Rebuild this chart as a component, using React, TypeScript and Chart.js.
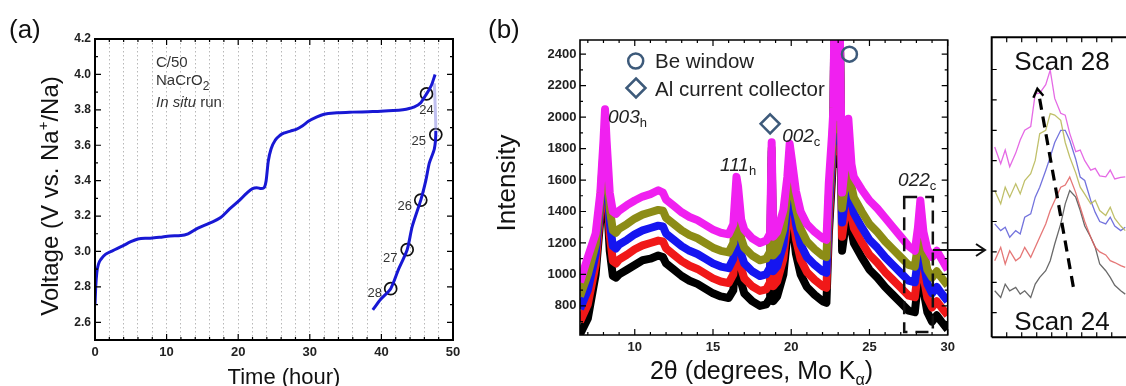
import React, { useEffect, useRef } from "react";
import { Chart, registerables } from "chart.js";
Chart.register(...registerables);

const SANS = "'Liberation Sans', Arial, Helvetica, sans-serif";

// ---------------- Panel (a): voltage profile ----------------
const chargeTime = [0, 0.1, 0.25, 0.5, 0.9, 1.5, 2.5, 3.8, 5.0, 6.0, 7.5, 9.0, 10.5, 12.0, 13.0, 14.3, 16.0, 17.5, 18.8, 20.2, 21.2, 22.0, 22.6, 23.2, 23.6, 23.9, 24.2, 24.6, 25.2, 25.8, 26.5, 27.3, 28.1, 29.0, 29.8, 31.0, 32.0, 33.8, 36.0, 38.8, 41.0, 43.0, 44.5, 45.5, 46.3, 47.0, 47.5];
const chargeVoltage = [2.70, 2.80, 2.88, 2.93, 2.96, 2.985, 3.005, 3.03, 3.055, 3.07, 3.075, 3.08, 3.088, 3.09, 3.10, 3.13, 3.16, 3.19, 3.24, 3.29, 3.33, 3.355, 3.36, 3.355, 3.36, 3.40, 3.51, 3.58, 3.63, 3.655, 3.67, 3.68, 3.69, 3.71, 3.735, 3.76, 3.775, 3.783, 3.787, 3.79, 3.795, 3.80, 3.815, 3.84, 3.89, 3.94, 4.0];
const dischargeTime = [47.4, 47.6, 47.4, 46.7, 46.2, 45.5, 44.3, 43.6, 42.4, 41.3, 39.9, 38.8];
const dischargeVoltage = [3.95, 3.68, 3.58, 3.50, 3.40, 3.29, 3.14, 3.01, 2.90, 2.79, 2.73, 2.67];
const scanTime = [46.3, 47.6, 45.5, 43.6, 41.3];
const scanVoltage = [3.89, 3.66, 3.29, 3.01, 2.79];
const scanNumbers = ["24", "25", "26", "27", "28"];
const timeLabels = [0, 10, 20, 30, 40, 50];
const timeGridLines = [0, 2, 4, 6, 8, 10, 12, 14, 16, 18, 20, 22, 24, 26, 28, 30, 32, 34, 36, 38, 40, 42, 44, 46, 48, 50];
const voltageTicks = [2.6, 2.8, 3.0, 3.2, 3.4, 3.6, 3.8, 4.0, 4.2];
const voltageMinor = [2.5, 2.7, 2.9, 3.1, 3.3, 3.5, 3.7, 3.9, 4.1];

// ---------------- Panel (b): XRD patterns ----------------
const twoTheta = [6.5, 7.0, 7.5, 7.8, 8.0, 8.1, 8.2, 8.4, 8.6, 8.8, 9.0, 9.5, 10.0, 10.5, 11.0, 11.5, 11.8, 12.0, 12.5, 13.0, 13.5, 14.0, 14.5, 15.0, 15.5, 16.0, 16.3, 16.5, 16.6, 16.8, 17.0, 17.5, 18.0, 18.4, 18.65, 18.75, 18.85, 19.1, 19.5, 19.75, 19.9, 20.05, 20.3, 20.6, 21.0, 21.5, 22.0, 22.25, 22.4, 22.6, 22.7, 22.75, 22.8, 23.0, 23.1, 23.25, 23.45, 23.65, 23.85, 24.0, 24.5, 25.0, 25.5, 26.0, 26.5, 27.0, 27.5, 27.9, 28.1, 28.25, 28.45, 28.7, 29.0, 29.3, 29.6, 30.0];
const scan24 = [620, 720, 1000, 1350, 1580, 1650, 1500, 1150, 990, 980, 1000, 1030, 1060, 1090, 1100, 1120, 1110, 1070, 1030, 990, 960, 940, 910, 880, 860, 850, 900, 1220, 1180, 950, 880, 830, 800, 810, 850, 1700, 830, 860, 1000, 1250, 1560, 1350, 1130, 1000, 920, 870, 830, 820, 1250, 1600, 1800, 2600, 1700, 1750, 2600, 1150, 1300, 1550, 1280, 1200, 1110, 1030, 980, 920, 870, 820, 770, 760, 950, 1150, 900, 760, 700, 740, 700, 650];
const scan25 = [700, 810, 1060, 1400, 1650, 1760, 1600, 1250, 1085, 1070, 1095, 1125, 1160, 1185, 1200, 1215, 1210, 1165, 1125, 1085, 1055, 1035, 1005, 975, 955, 945, 1000, 1310, 1260, 1040, 975, 925, 895, 905, 950, 1740, 925, 955, 1100, 1330, 1630, 1430, 1225, 1095, 1015, 965, 925, 915, 1330, 1680, 1870, 2600, 1780, 1820, 2600, 1240, 1390, 1650, 1370, 1295, 1205, 1125, 1075, 1015, 965, 915, 865, 855, 1020, 1250, 990, 850, 790, 830, 790, 740];
const scan26 = [780, 900, 1130, 1450, 1720, 1840, 1680, 1330, 1180, 1165, 1190, 1220, 1255, 1280, 1295, 1310, 1305, 1260, 1220, 1180, 1150, 1130, 1100, 1070, 1050, 1040, 1100, 1410, 1350, 1130, 1070, 1020, 990, 1000, 1045, 1780, 1020, 1050, 1190, 1420, 1700, 1520, 1320, 1190, 1110, 1060, 1020, 1010, 1410, 1740, 1930, 2600, 1850, 1890, 2600, 1330, 1480, 1750, 1460, 1390, 1300, 1220, 1170, 1110, 1060, 1010, 960, 950, 1100, 1330, 1080, 940, 880, 920, 880, 830];
const scan27 = [860, 1000, 1190, 1480, 1780, 1870, 1720, 1420, 1280, 1265, 1290, 1320, 1355, 1380, 1395, 1410, 1405, 1360, 1320, 1280, 1250, 1230, 1200, 1170, 1150, 1140, 1200, 1500, 1440, 1230, 1170, 1120, 1090, 1100, 1145, 1800, 1120, 1150, 1290, 1510, 1770, 1610, 1420, 1290, 1210, 1160, 1120, 1110, 1490, 1800, 1990, 2600, 1920, 1950, 2600, 1420, 1580, 1850, 1560, 1490, 1400, 1320, 1270, 1210, 1160, 1110, 1060, 1050, 1190, 1380, 1170, 1030, 980, 1020, 980, 930];
const scan28 = [950, 1110, 1260, 1520, 1850, 2050, 1850, 1520, 1400, 1385, 1405, 1440, 1470, 1495, 1510, 1535, 1520, 1475, 1435, 1395, 1365, 1345, 1315, 1285, 1265, 1255, 1320, 1620, 1560, 1350, 1285, 1230, 1200, 1215, 1260, 1840, 1240, 1270, 1410, 1620, 1830, 1720, 1530, 1400, 1320, 1270, 1230, 1220, 1580, 1880, 2060, 2600, 2000, 2020, 2600, 1520, 1700, 1990, 1700, 1620, 1540, 1470, 1420, 1360, 1300, 1240, 1180, 1150, 1300, 1470, 1270, 1160, 1110, 1150, 1100, 1030];
const thetaLabels = [10, 15, 20, 25, 30];
const thetaMinor = [7, 8, 9, 11, 12, 13, 14, 16, 17, 18, 19, 21, 22, 23, 24, 26, 27, 28, 29];
const intensityTicks = [800, 1000, 1200, 1400, 1600, 1800, 2000, 2200, 2400];
const intensityMinor = [700, 900, 1100, 1300, 1500, 1700, 1900, 2100, 2300];
const peakNames = ["003", "111", "002", "022"];
const peakSubs = ["h", "h", "c", "c"];
const peakLabelTheta = [8.29, 15.45, 19.42, 26.83];
const peakLabelIntensity = [1963, 1658, 1842, 1562];
const beMarker = [23.72, 2400];
const alMarker = [18.65, 1957];
const zoomBoxTheta = [27.22, 29.05];
const zoomBoxIntensity = [634, 1492];
const arrowIntensity = 1155;

// ---------------- Panel (c): inset of the 022c peak ----------------
const insetTheta = [27.72, 27.76, 27.79, 27.82, 27.86, 27.89, 27.92, 27.96, 27.99, 28.02, 28.06, 28.09, 28.12, 28.16, 28.19, 28.22, 28.26, 28.29, 28.32, 28.36, 28.39, 28.42, 28.46, 28.49, 28.52, 28.56, 28.59];
const inset24 = [772, 750, 794, 772, 783, 761, 772, 750, 794, 816, 838, 871, 926, 992, 1058, 1102, 1080, 1036, 985, 948, 915, 860, 838, 816, 790, 772, 761];
const inset25 = [871, 915, 860, 904, 871, 882, 915, 882, 915, 948, 992, 1036, 1069, 1113, 1120, 1146, 1095, 1047, 1000, 948, 915, 900, 890, 871, 865, 855, 849];
const inset26 = [992, 970, 981, 948, 970, 959, 1014, 1025, 1080, 1113, 1168, 1212, 1260, 1300, 1300, 1267, 1205, 1146, 1135, 1069, 1030, 1000, 992, 1014, 985, 970, 981];
const inset27 = [1102, 1058, 1113, 1080, 1124, 1091, 1135, 1157, 1201, 1289, 1300, 1355, 1350, 1333, 1260, 1212, 1160, 1113, 1090, 1058, 1070, 1036, 1020, 1047, 1010, 985, 970];
const inset28 = [1245, 1190, 1235, 1180, 1225, 1268, 1300, 1312, 1420, 1422, 1450, 1498, 1405, 1356, 1350, 1290, 1230, 1235, 1200, 1169, 1175, 1150, 1147, 1169, 1140, 1145, 1147];
const insetThetaTicks = [27.8, 27.9, 28.0, 28.1, 28.2, 28.3, 28.4, 28.5];
const insetIntensityTicks = [700, 800, 900, 1000, 1100, 1200, 1300, 1400, 1500];
const shiftArrowTheta = [28.244, 28.011];
const shiftArrowIntensity = [785, 1427];

// ---------------- helpers ----------------
type Part = { t: string; size: number; dy?: number; italic?: boolean; bold?: boolean };
const fontOf = (p: Part) => `${p.italic ? "italic " : ""}${p.bold ? "bold " : ""}${p.size}px ${SANS}`;
function drawRich(ctx: CanvasRenderingContext2D, parts: Part[], x: number, y: number, align: "left" | "center") {
  let total = 0;
  const ws = parts.map((p) => {
    ctx.font = fontOf(p);
    const w = ctx.measureText(p.t).width;
    total += w;
    return w;
  });
  let cx = align === "center" ? x - total / 2 : x;
  ctx.textAlign = "left";
  ctx.textBaseline = "alphabetic";
  parts.forEach((p, i) => {
    ctx.font = fontOf(p);
    ctx.fillText(p.t, cx, y + (p.dy || 0));
    cx += ws[i];
  });
}

type BoxOpts = {
  lw: number; tw: number; major: number; minor: number;
  xMajor: number[]; xMinor: number[]; yMajor: number[]; yMinor: number[];
  top: boolean; right: boolean; rightBorder: boolean;
};
function drawBox(chart: any, o: BoxOpts) {
  const { ctx, chartArea: a } = chart;
  const xs = chart.scales.x, ys = chart.scales.y;
  ctx.save();
  ctx.strokeStyle = "#000";
  ctx.lineWidth = o.tw;
  ctx.beginPath();
  const tx = (vals: number[], len: number) => vals.forEach((v) => {
    const p = xs.getPixelForValue(v);
    ctx.moveTo(p, a.bottom); ctx.lineTo(p, a.bottom - len);
    if (o.top) { ctx.moveTo(p, a.top); ctx.lineTo(p, a.top + len); }
  });
  const ty = (vals: number[], len: number) => vals.forEach((v) => {
    const p = ys.getPixelForValue(v);
    ctx.moveTo(a.left, p); ctx.lineTo(a.left + len, p);
    if (o.right) { ctx.moveTo(a.right, p); ctx.lineTo(a.right - len, p); }
  });
  tx(o.xMajor, o.major); tx(o.xMinor, o.minor); ty(o.yMajor, o.major); ty(o.yMinor, o.minor);
  ctx.stroke();
  ctx.lineWidth = o.lw;
  ctx.lineJoin = "miter";
  ctx.beginPath();
  ctx.moveTo(a.left, a.bottom); ctx.lineTo(a.left, a.top); ctx.lineTo(a.right, a.top);
  if (o.rightBorder) ctx.lineTo(a.right, a.bottom); else ctx.moveTo(a.right, a.bottom);
  ctx.lineTo(a.left, a.bottom);
  if (o.rightBorder) ctx.closePath();
  ctx.stroke();
  ctx.restore();
}

const pts = (xs: number[], ys: number[]) => xs.map((x, i) => ({ x, y: ys[i] }));

// ---------------- plugins ----------------
const panelAPlugin = {
  id: "panelA",
  afterDraw(chart: any) {
    const { ctx, chartArea: a } = chart;
    drawBox(chart, {
      lw: 2, tw: 1.2, major: 6, minor: 3,
      xMajor: timeLabels, xMinor: timeGridLines.filter((v) => !timeLabels.includes(v)),
      yMajor: voltageTicks, yMinor: voltageMinor, top: true, right: true, rightBorder: true,
    });
    ctx.save();
    ctx.fillStyle = "#333";
    drawRich(ctx, [{ t: "C/50", size: 15 }], a.left + 61, a.top + 27.5, "left");
    drawRich(ctx, [{ t: "NaCrO", size: 15 }, { t: "2", size: 12, dy: 5 }], a.left + 61, a.top + 46, "left");
    drawRich(ctx, [{ t: "In situ", size: 15, italic: true }, { t: " run", size: 15 }], a.left + 61, a.top + 67.5, "left");
    // scan number labels beside the circles
    const meta = chart.getDatasetMeta(2);
    const offs = [[0, 20], [-17, 10], [-16, 10], [-17, 12], [-16, 8]];
    ctx.font = `13px ${SANS}`;
    ctx.textAlign = "center";
    ctx.textBaseline = "alphabetic";
    meta.data.forEach((el: any, i: number) => {
      ctx.fillText(scanNumbers[i], el.x + offs[i][0], el.y + offs[i][1]);
    });
    // titles
    ctx.fillStyle = "#111";
    drawRich(ctx, [{ t: "(a)", size: 26 }], 9, 38, "left");
    drawRich(ctx, [{ t: "Time (hour)", size: 22 }], 284, 384, "center");
    ctx.translate(58, 196);
    ctx.rotate(-Math.PI / 2);
    drawRich(ctx, [{ t: "Voltage (V vs. Na", size: 24 }, { t: "+", size: 15, dy: -10 }, { t: "/Na)", size: 24 }], 0, 0, "center");
    ctx.restore();
  },
};

const SLATE = "#3d5a7a";
const panelBPlugin = {
  id: "panelB",
  afterDraw(chart: any) {
    const { ctx, chartArea: a } = chart;
    const xs = chart.scales.x, ys = chart.scales.y;
    drawBox(chart, {
      lw: 1.6, tw: 1.2, major: 6, minor: 3,
      xMajor: thetaLabels, xMinor: thetaMinor, yMajor: intensityTicks, yMinor: intensityMinor,
      top: true, right: true, rightBorder: true,
    });
    ctx.save();
    // zoom box
    const bx0 = xs.getPixelForValue(zoomBoxTheta[0]);
    const bx1 = xs.getPixelForValue(zoomBoxTheta[1]);
    const by0 = ys.getPixelForValue(zoomBoxIntensity[1]);
    const by1 = ys.getPixelForValue(zoomBoxIntensity[0]);
    ctx.strokeStyle = "#111";
    ctx.lineWidth = 2.5;
    ctx.setLineDash([13, 8]);
    ctx.strokeRect(bx0, by0, bx1 - bx0, by1 - by0);
    ctx.setLineDash([]);
    // arrow to inset
    const ay = ys.getPixelForValue(arrowIntensity);
    const tip = chart.width - 5;
    ctx.lineWidth = 2;
    ctx.beginPath();
    ctx.moveTo(bx1, ay); ctx.lineTo(tip, ay);
    ctx.moveTo(tip - 9, ay - 6); ctx.lineTo(tip, ay); ctx.lineTo(tip - 9, ay + 6);
    ctx.stroke();
    // markers
    ctx.strokeStyle = SLATE;
    ctx.lineWidth = 2.5;
    const circle = (x: number, y: number, r: number) => { ctx.beginPath(); ctx.arc(x, y, r, 0, Math.PI * 2); ctx.stroke(); };
    const diamond = (x: number, y: number, r: number) => {
      ctx.beginPath(); ctx.moveTo(x, y - r); ctx.lineTo(x + r, y); ctx.lineTo(x, y + r); ctx.lineTo(x - r, y); ctx.closePath(); ctx.stroke();
    };
    circle(xs.getPixelForValue(beMarker[0]), ys.getPixelForValue(beMarker[1]), 7.5);
    diamond(xs.getPixelForValue(alMarker[0]), ys.getPixelForValue(alMarker[1]), 9.5);
    // legend
    circle(a.left + 55.7, a.top + 21, 7.5);
    diamond(a.left + 56, a.top + 48, 9.5);
    ctx.fillStyle = "#222";
    drawRich(ctx, [{ t: "Be window", size: 20.5 }], a.left + 75, a.top + 28, "left");
    drawRich(ctx, [{ t: "Al current collector", size: 20.5 }], a.left + 75, a.top + 56, "left");
    // peak labels
    peakNames.forEach((n, i) => {
      drawRich(ctx, [{ t: n, size: 19, italic: true }, { t: peakSubs[i], size: 13, dy: 4 }],
        xs.getPixelForValue(peakLabelTheta[i]), ys.getPixelForValue(peakLabelIntensity[i]), "left");
    });
    // titles
    ctx.fillStyle = "#111";
    drawRich(ctx, [{ t: "(b)", size: 26 }], 8, 38, "left");
    drawRich(ctx, [{ t: "2θ (degrees, Mo K", size: 25 }, { t: "α", size: 16, dy: 6 }, { t: ")", size: 25 }], 281.5, 379, "center");
    ctx.translate(35, 183);
    ctx.rotate(-Math.PI / 2);
    drawRich(ctx, [{ t: "Intensity", size: 26 }], 0, 0, "center");
    ctx.restore();
  },
};

const panelCPlugin = {
  id: "panelC",
  afterDraw(chart: any) {
    const { ctx } = chart;
    const xs = chart.scales.x, ys = chart.scales.y;
    drawBox(chart, {
      lw: 2, tw: 1.2, major: 5, minor: 0,
      xMajor: insetThetaTicks, xMinor: [], yMajor: insetIntensityTicks, yMinor: [],
      top: true, right: false, rightBorder: false,
    });
    ctx.save();
    const x0 = xs.getPixelForValue(shiftArrowTheta[0]), y0 = ys.getPixelForValue(shiftArrowIntensity[0]);
    const x1 = xs.getPixelForValue(shiftArrowTheta[1]), y1 = ys.getPixelForValue(shiftArrowIntensity[1]);
    ctx.strokeStyle = "#000";
    ctx.lineWidth = 3.2;
    ctx.setLineDash([11, 7]);
    ctx.beginPath(); ctx.moveTo(x0, y0); ctx.lineTo(x1, y1); ctx.stroke();
    ctx.setLineDash([]);
    ctx.lineWidth = 2.4;
    ctx.beginPath();
    ctx.moveTo(x1 - 5, y1 + 6); ctx.lineTo(x1 - 1, y1 - 3); ctx.lineTo(x1 + 5, y1 + 4);
    ctx.stroke();
    ctx.fillStyle = "#111";
    drawRich(ctx, [{ t: "Scan 28", size: 26 }], 72, 70, "center");
    drawRich(ctx, [{ t: "Scan 24", size: 26 }], 72, 330, "center");
    ctx.restore();
  },
};

// ---------------- configs ----------------
const BLUE = "#1818d4";
const tickFont = (size: number) => ({ size, weight: "bold" as const, family: SANS });

function configA(): any {
  return {
    type: "line",
    data: {
      datasets: [
        { data: pts(chargeTime, chargeVoltage), borderColor: BLUE, borderWidth: 3, pointRadius: 0, cubicInterpolationMode: "monotone", fill: false },
        {
          data: pts(dischargeTime, dischargeVoltage), borderColor: BLUE, borderWidth: 3, pointRadius: 0, tension: 0.25, fill: false,
          segment: { borderColor: (c: any) => (c.p0DataIndex === 0 ? "rgba(130,130,225,0.5)" : BLUE) },
        },
        {
          type: "scatter", data: pts(scanTime, scanVoltage), pointStyle: "circle", pointRadius: 6,
          pointBorderColor: "#111", pointBorderWidth: 1.7, pointBackgroundColor: "rgba(0,0,0,0)", showLine: false,
        },
      ],
    },
    options: {
      animation: false, responsive: false, devicePixelRatio: 1,
      layout: { padding: { left: 0, top: 39, right: 27, bottom: 0 } },
      plugins: { legend: { display: false }, tooltip: { enabled: false } },
      scales: {
        x: {
          type: "linear", min: 0, max: 50,
          afterBuildTicks: (s: any) => { s.ticks = timeGridLines.map((v) => ({ value: v })); },
          afterFit: (s: any) => { s.height = 46; },
          ticks: { callback: (v: any) => (timeLabels.includes(Number(v)) ? String(v) : ""), font: tickFont(13), color: "#222", padding: 5, maxRotation: 0, autoSkip: false },
          grid: { color: "#b8b8b8", lineWidth: 1, drawTicks: false },
          border: { display: false, dash: [1.5, 2.5] },
        },
        y: {
          type: "linear", min: 2.5, max: 4.2,
          afterBuildTicks: (s: any) => { s.ticks = voltageTicks.map((v) => ({ value: v })); },
          afterFit: (s: any) => { s.width = 95; },
          ticks: { callback: (v: any) => Number(v).toFixed(1), font: tickFont(12), color: "#222", padding: 4, autoSkip: false },
          grid: { display: false, drawTicks: false },
          border: { display: false },
        },
      },
    },
    plugins: [panelAPlugin],
  };
}

const xrdSeries = [
  { d: scan28, c: "#f020f0" },
  { d: scan27, c: "#8c8c16" },
  { d: scan26, c: "#1515f0" },
  { d: scan25, c: "#f01818" },
  { d: scan24, c: "#000000" },
];

function configB(): any {
  return {
    type: "line",
    data: {
      datasets: xrdSeries.map((s) => ({ data: pts(twoTheta, s.d), borderColor: s.c, borderWidth: 8, pointRadius: 0, tension: 0, fill: false, borderJoinStyle: "round" })),
    },
    options: {
      animation: false, responsive: false, devicePixelRatio: 1,
      layout: { padding: { left: 0, top: 40, right: 42.3, bottom: 0 } },
      plugins: { legend: { display: false }, tooltip: { enabled: false } },
      scales: {
        x: {
          type: "linear", min: 6.5, max: 30,
          afterBuildTicks: (s: any) => { s.ticks = thetaLabels.map((v) => ({ value: v })); },
          afterFit: (s: any) => { s.height = 51; },
          ticks: { callback: (v: any) => String(v), font: tickFont(13), color: "#222", padding: 5, maxRotation: 0, autoSkip: false },
          grid: { display: false, drawTicks: false },
          border: { display: false },
        },
        y: {
          type: "linear", min: 615, max: 2490,
          afterBuildTicks: (s: any) => { s.ticks = intensityTicks.map((v) => ({ value: v })); },
          afterFit: (s: any) => { s.width = 100; },
          ticks: { callback: (v: any) => String(v), font: tickFont(13), color: "#222", padding: 3.5, autoSkip: false },
          grid: { display: false, drawTicks: false },
          border: { display: false },
        },
      },
    },
    plugins: [panelBPlugin],
  };
}

const insetSeries = [
  { d: inset28, c: "rgba(225,80,225,0.85)" },
  { d: inset27, c: "rgba(185,185,90,0.9)" },
  { d: inset26, c: "rgba(90,90,215,0.85)" },
  { d: inset25, c: "rgba(225,95,95,0.85)" },
  { d: inset24, c: "rgba(90,90,90,0.9)" },
];

function configC(): any {
  return {
    type: "line",
    data: {
      datasets: insetSeries.map((s) => ({ data: pts(insetTheta, s.d), borderColor: s.c, borderWidth: 1.3, pointRadius: 0, tension: 0, fill: false })),
    },
    options: {
      animation: false, responsive: false, devicePixelRatio: 1,
      layout: { padding: { left: 1.7, top: 37.3, right: 0, bottom: 48.7 } },
      plugins: { legend: { display: false }, tooltip: { enabled: false } },
      scales: {
        x: { type: "linear", min: 27.7, max: 28.595, display: false },
        y: { type: "linear", min: 619, max: 1606, display: false },
      },
    },
    plugins: [panelCPlugin],
  };
}

function ChartCanvas({ make, left, width }: { make: () => any; left: number; width: number }) {
  const ref = useRef<HTMLCanvasElement>(null);
  useEffect(() => {
    const chart = new Chart(ref.current as HTMLCanvasElement, make());
    return () => chart.destroy();
  }, []);
  return (
    <canvas
      ref={ref}
      width={width}
      height={386}
      style={{ position: "absolute", left, top: 0, width, height: 386, display: "block" }}
    />
  );
}

export default function App() {
  return (
    <div style={{ position: "absolute", left: 0, top: 0, width: 1126, height: 386, background: "#fff", overflow: "hidden" }}>
      <ChartCanvas make={configA} left={0} width={480} />
      <ChartCanvas make={configB} left={480} width={510} />
      <ChartCanvas make={configC} left={990} width={136} />
    </div>
  );
}
